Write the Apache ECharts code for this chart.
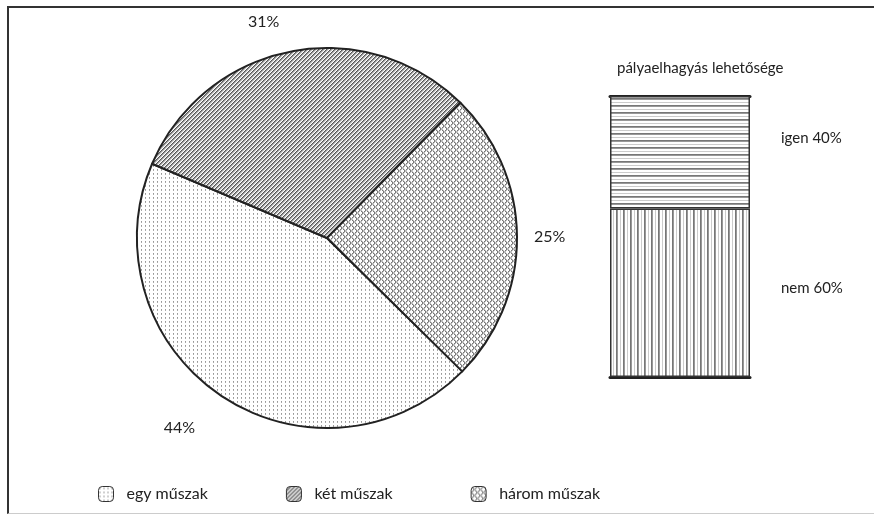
<!DOCTYPE html>
<html>
<head>
<meta charset="utf-8">
<script src="https://cdn.jsdelivr.net/npm/echarts@6/dist/echarts.min.js"></script>
<style>
  body { margin: 0; background: #fff; }
  #chart { width: 874px; height: 515px; }
  #frame { position: absolute; left: 7px; top: 6px; width: 870px; height: 505px;
           border-left: 2px solid #333; border-top: 2px solid #333; border-bottom: 1px solid #ccc;
           pointer-events: none; }
</style>
</head>
<body>
<div id="chart"></div>
<div id="frame"></div>
<script>
const shiftNames = ['egy műszak', 'két műszak', 'három műszak'];
const shiftValues = [44, 31, 25];
const leaveTitle = 'pályaelhagyás lehetősége';
const leaveNames = ['nem', 'igen'];
const leaveValues = [60, 40];

function makeTile(w, h, draw) {
    const c = document.createElement('canvas');
    c.width = w; c.height = h;
    const ctx = c.getContext('2d');
    ctx.fillStyle = '#fff';
    ctx.fillRect(0, 0, w, h);
    draw(ctx);
    return { image: c, repeat: 'repeat' };
}
function px(ctx, x, y, col) { ctx.fillStyle = col; ctx.fillRect(x, y, 1, 1); }

// dotted
const dots = makeTile(4, 4, ctx => { px(ctx, 1, 1, '#999'); px(ctx, 1, 2, '#aaa'); });
// dense diagonal hatch
const diag = makeTile(4, 4, ctx => {
    for (let i = 0; i < 4; i++) {
        px(ctx, 3 - i, i, '#555');
        px(ctx, (4 - i) % 4, i, '#999');
        px(ctx, (5 - i) % 4, i, '#ccc');
    }
});
// cross hatch
const cross = makeTile(6, 6, ctx => {
    for (let i = 0; i < 6; i++) {
        px(ctx, i, i, '#777'); px(ctx, 5 - i, i, '#777');
        px(ctx, (i + 1) % 6, i, '#bbb'); px(ctx, (6 - i) % 6, i, '#bbb');
    }
});
const vStripes = makeTile(7, 1, ctx => { px(ctx, 0, 0, '#777'); px(ctx, 1, 0, '#999'); px(ctx, 4, 0, '#ccc'); });
const hStripes = makeTile(1, 7, ctx => { px(ctx, 0, 0, '#777'); px(ctx, 0, 1, '#999'); px(ctx, 0, 4, '#ccc'); });
const fills = [dots, diag, cross];
const barFills = [vStripes, hStripes];
const labelReach = [38, 30, 12];
const barLabelShift = [-5, -14];

const font = 'Lato, "Open Sans", sans-serif';
const chart = echarts.init(document.getElementById('chart'));
const option = {
    animation: false,
    textStyle: { fontFamily: font, color: '#222' },
    title: {
        text: leaveTitle, left: 612, top: 56,
        textStyle: { fontFamily: font, fontSize: 15, fontWeight: 'normal', color: '#222' }
    },
    legend: {
        data: shiftNames, left: 93, top: 481, itemWidth: 15, itemHeight: 15, itemGap: 78,
        itemStyle: { borderColor: '#333', borderWidth: 1 },
        textStyle: { fontFamily: font, fontSize: 16, color: '#222', padding: [6, 0, 0, 8] }
    },
    grid: { left: 610, top: 96, width: 140, height: 281 },
    xAxis: [
        { type: 'category', data: [''], position: 'bottom', axisTick: { show: false }, axisLabel: { show: false },
          axisLine: { lineStyle: { color: '#222', width: 3 } } },
        { type: 'category', data: [''], position: 'top', axisTick: { show: false }, axisLabel: { show: false },
          axisLine: { lineStyle: { color: '#222', width: 3 } } }
    ],
    yAxis: { type: 'value', min: 0, max: 100, show: false },
    series: [
        {
            type: 'pie', center: [327, 238], radius: 190, startAngle: -44.6, clockwise: true,
            data: shiftNames.map((n, i) => ({
                name: n, value: shiftValues[i], itemStyle: { color: fills[i] },
                labelLine: { show: false, length: labelReach[i], length2: 0 }
            })),
            itemStyle: { borderColor: '#222', borderWidth: 2 },
            label: { show: true, position: 'outside', formatter: '{c}%', fontFamily: font, fontSize: 16, color: '#222' },
            labelLine: { show: false },
            emphasis: { disabled: true }
        },
        ...leaveNames.map((n, i) => ({
            name: n, type: 'bar', stack: 'leave', barWidth: '100%', data: [leaveValues[i]],
            itemStyle: { color: barFills[i], borderColor: '#333', borderWidth: 1.5 },
            label: { show: true, position: 'right', distance: 31, offset: [0, barLabelShift[i]], formatter: '{a} {c}%',
                     fontFamily: font, fontSize: 15, color: '#222' },
            emphasis: { disabled: true }
        }))
    ]
};
chart.setOption(option);
window.addEventListener('resize', () => chart.resize());
</script>
</body>
</html>
